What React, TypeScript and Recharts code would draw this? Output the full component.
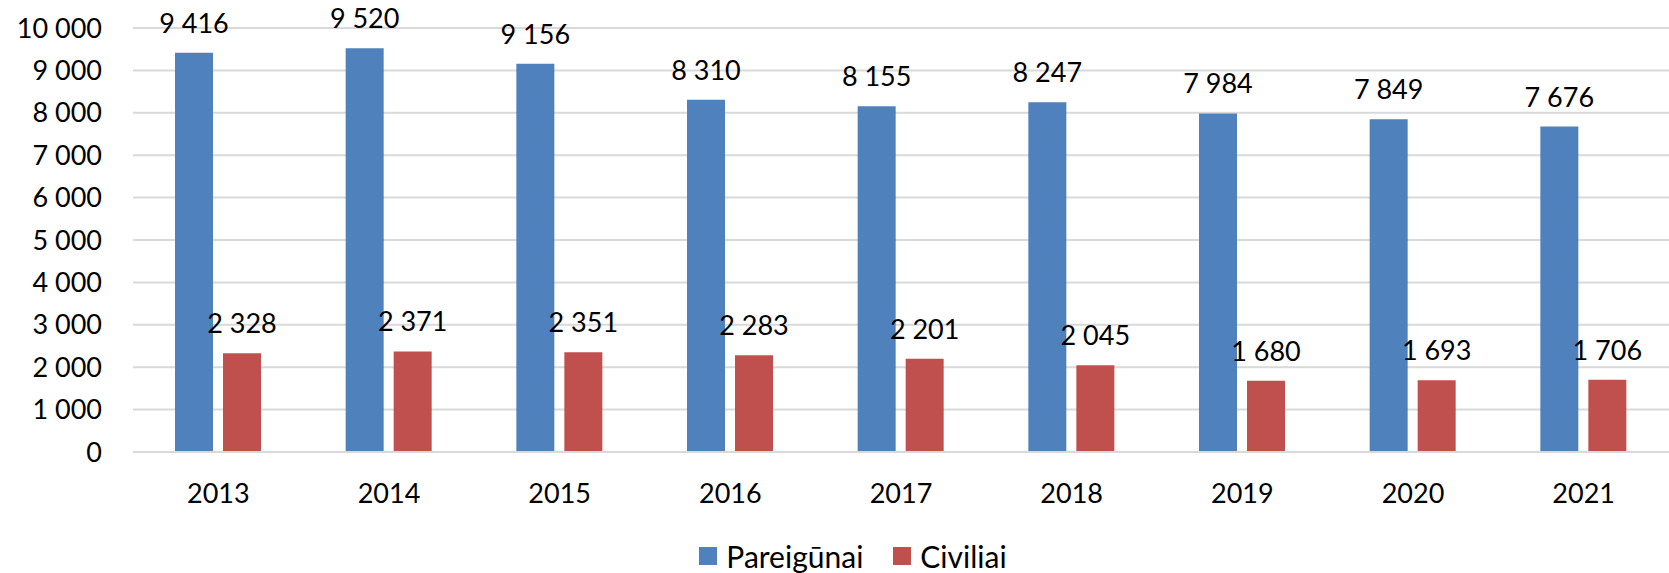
import React from 'react';
import { BarChart, Bar, XAxis, YAxis, CartesianGrid, LabelList } from 'recharts';

const years = ['2013', '2014', '2015', '2016', '2017', '2018', '2019', '2020', '2021'];
const pareigunai = [9416, 9520, 9156, 8310, 8155, 8247, 7984, 7849, 7676];
const civiliai = [2328, 2371, 2351, 2283, 2201, 2045, 1680, 1693, 1706];
const yTicks = [0, 1000, 2000, 3000, 4000, 5000, 6000, 7000, 8000, 9000, 10000];
const seriesNames = ['Pareigūnai', 'Civiliai'];

const data = years.map((y, i) => ({ year: y, p: pareigunai[i], c: civiliai[i] }));

const fmt = (v: any) => String(v).replace(/\B(?=(\d{3})+(?!\d))/g, ' ');

const FONT = 'Lato, "Open Sans", sans-serif';
const FS = 27;
const BLUE = '#4F81BD';
const RED = '#C0504D';
const colors = [BLUE, RED];

const TopLabel = (props: any) => {
  const { x, y, width, value } = props;
  return (
    <text x={Number(x) + Number(width) / 2} y={Number(y) - 20} textAnchor="middle" fill="#000" fontSize={FS} fontFamily={FONT}>
      {fmt(value)}
    </text>
  );
};

export default function App() {
  return (
    <div style={{ position: 'absolute', top: 0, left: 0, width: 1669, height: 573, background: '#fff' }}>
      <BarChart width={1669} height={573} data={data} margin={{ top: 28, right: 0, bottom: 0, left: 0 }} barSize={38} barGap={10}>
        <CartesianGrid vertical={false} stroke="#d9d9d9" strokeWidth={2} />
        <XAxis
          dataKey="year"
          tickLine={false}
          axisLine={{ stroke: '#d9d9d9', strokeWidth: 2 }}
          tickSize={0}
          tickMargin={32}
          height={121}
          tick={{ fill: '#000', fontSize: FS, fontFamily: FONT }}
          interval={0}
        />
        <YAxis
          width={133}
          domain={[0, 10000]}
          ticks={yTicks}
          tickFormatter={fmt}
          axisLine={false}
          tickLine={false}
          tickSize={0}
          tickMargin={31}
          interval={0}
          tick={{ fill: '#000', fontSize: FS, fontFamily: FONT }}
        />
        <Bar dataKey="p" name={seriesNames[0]} fill={BLUE} isAnimationActive={false}>
          <LabelList dataKey="p" content={<TopLabel />} />
        </Bar>
        <Bar dataKey="c" name={seriesNames[1]} fill={RED} isAnimationActive={false}>
          <LabelList dataKey="c" content={<TopLabel />} />
        </Bar>
      </BarChart>
      <div style={{ position: 'absolute', top: 536, left: 37, width: 1632, display: 'flex', justifyContent: 'center', alignItems: 'center', fontFamily: FONT, fontSize: 30, color: '#000', lineHeight: '40px' }}>
        {seriesNames.map((n, i) => (
          <div key={n} style={{ display: 'flex', alignItems: 'center', marginLeft: i === 0 ? 0 : 30 }}>
            <div style={{ width: 18, height: 18, background: colors[i], marginRight: 9 }} />
            <span>{n}</span>
          </div>
        ))}
      </div>
    </div>
  );
}
